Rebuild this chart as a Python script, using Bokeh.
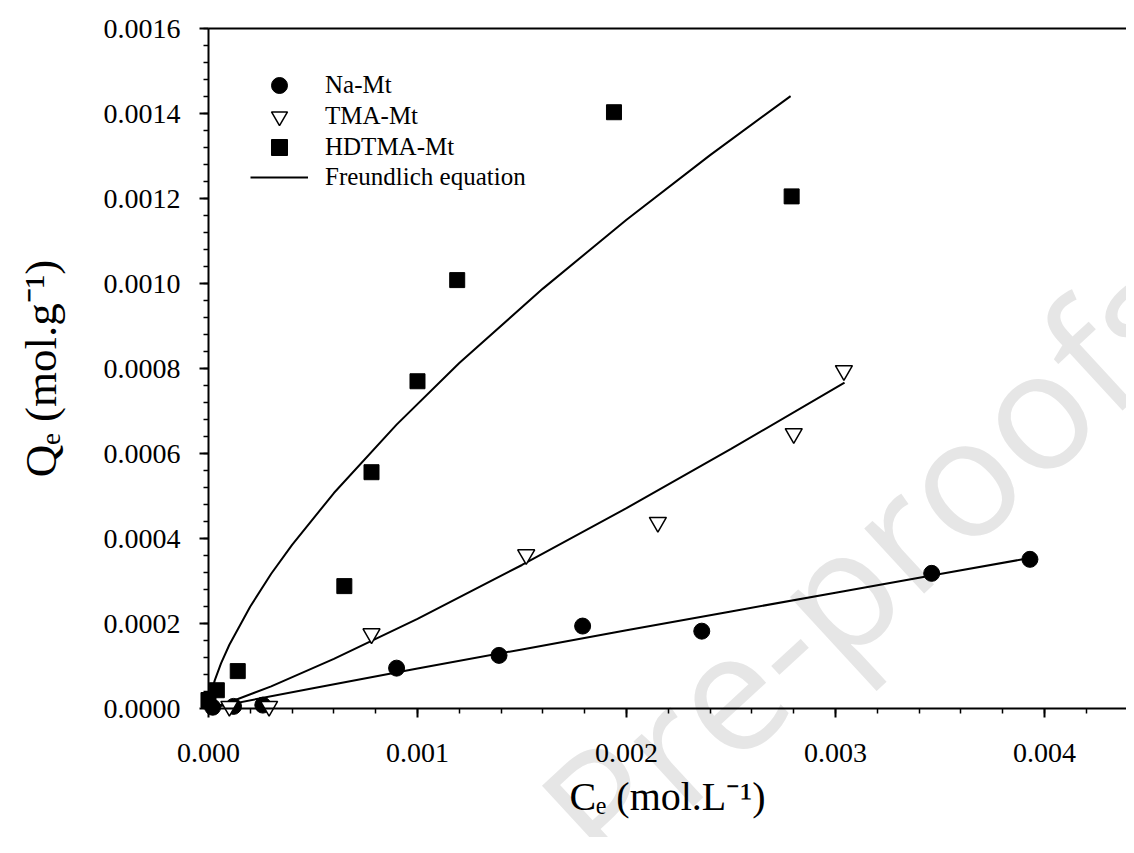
from bokeh.plotting import figure
from bokeh.models import (Range1d, SingleIntervalTicker, PrintfTickFormatter, LinearAxis,
                          FixedTicker, Legend, LegendItem, Label)
from bokeh.embed import file_html
from bokeh.resources import INLINE

na_ce = [0.00002, 0.00012, 0.00026, 0.00090, 0.00139, 0.00179, 0.00236, 0.00346, 0.00393]
na_qe = [0.000003, 0.000005, 0.000008, 0.000095, 0.000125, 0.000194, 0.000182, 0.000318, 0.000351]

tma_ce = [0.00010, 0.00029, 0.00078, 0.00152, 0.00215, 0.00280, 0.00304]
tma_qe = [0.000005, 0.000005, 0.000176, 0.000362, 0.000438, 0.000647, 0.000795]

hd_ce = [0.0, 0.00004, 0.00014, 0.00065, 0.00078, 0.00100, 0.00119, 0.00194, 0.00279]
hd_qe = [0.000020, 0.000043, 0.000088, 0.000288, 0.000556, 0.000770, 0.001008, 0.001403, 0.001205]

# ---- Freundlich fit curves ----
na_fit_ce = [0.00002, 0.0005, 0.001, 0.0015, 0.002, 0.0025, 0.003, 0.0035, 0.003928]
na_fit_qe = [0.0000021, 0.0000479, 0.0000939, 0.0001391, 0.0001839, 0.0002284, 0.0002726, 0.0003165, 0.000354]

tma_fit_ce = [0.00002, 0.0001, 0.0003, 0.0006, 0.001, 0.0015, 0.002, 0.0025, 0.003043]
tma_fit_qe = [0.0000023, 0.0000146, 0.0000522, 0.0001166, 0.000211, 0.0003377, 0.0004714, 0.0006107, 0.000767]

hd_fit_ce = [0.00001, 0.00003, 0.00006, 0.0001, 0.0002, 0.0003, 0.0004, 0.0006, 0.0009,
             0.0012, 0.0016, 0.002, 0.0024, 0.002785]
hd_fit_qe = [0.0000313, 0.0000662, 0.000106, 0.000150, 0.000240, 0.000317, 0.000385, 0.000507, 0.000668,
             0.000813, 0.000988, 0.001150, 0.001302, 0.001441]

legend_labels = ["Na-Mt", "TMA-Mt", "HDTMA-Mt", "Freundlich equation"]
x_label = "C\u2091 (mol.L\u207b\u00b9)"
y_label = "Q\u2091 (mol.g\u207b\u00b9)"
watermark = "Pre-proofs"

X_MAX = 0.004392
Y_MAX = 0.0016
SERIF = "Liberation Serif"

# The data frame covers the whole canvas; the axes are pinned at Ce = 0 / Qe = 0
# so that nothing (tick labels, markers at zero, watermark) is clipped.
p = figure(width=1126, height=837, output_backend="svg", toolbar_location=None,
           x_range=Range1d(-0.000995, X_MAX), y_range=Range1d(-0.0003035, 0.0016659),
           min_border_left=0, min_border_right=0, min_border_top=0, min_border_bottom=0)
p.outline_line_color = None
p.xgrid.visible = False
p.ygrid.visible = False
p.background_fill_color = "white"

# watermark, behind everything
wm = Label(x=0.001713, y=-0.0003005, x_units="data", y_units="data", text=watermark,
           angle=0.745, text_font="Open Sans", text_font_size="165px",
           text_color="#e6e6e6", text_align="left", text_baseline="alphabetic",
           level="underlay")
p.add_layout(wm)

# axes
xa = p.xaxis[0]
xa.fixed_location = 0
xa.bounds = (0, X_MAX)
xa.ticker = SingleIntervalTicker(interval=0.001, num_minor_ticks=5)
xa.formatter = PrintfTickFormatter(format="%.3f")
ya = p.yaxis[0]
ya.fixed_location = 0
ya.bounds = (0, Y_MAX)
ya.ticker = SingleIntervalTicker(interval=0.0002, num_minor_ticks=5)
ya.formatter = PrintfTickFormatter(format="%.4f")
for ax in (xa, ya):
    ax.axis_line_width = 2
    ax.axis_line_color = "black"
    ax.major_tick_line_width = 2
    ax.minor_tick_line_width = 1.5
    ax.major_tick_out = 9
    ax.major_tick_in = 0
    ax.minor_tick_out = 5
    ax.minor_tick_in = 0
    ax.major_label_text_font = SERIF
    ax.major_label_text_font_size = "28px"
    ax.major_label_text_color = "black"
    ax.axis_label_text_font = SERIF
    ax.axis_label_text_font_style = "normal"
    ax.axis_label_text_color = "black"
xa.axis_label = x_label
ya.axis_label = y_label
xa.axis_label_text_font_size = "40px"
ya.axis_label_text_font_size = "45px"
xa.major_label_standoff = 26
ya.major_label_standoff = 19
xa.axis_label_standoff = 9
ya.axis_label_standoff = 35

top = LinearAxis(ticker=FixedTicker(ticks=[]), axis_line_width=2, axis_line_color="black",
                 fixed_location=Y_MAX, bounds=(0, X_MAX))
p.add_layout(top, "above")

# fit lines
l_na = p.line(na_fit_ce, na_fit_qe, line_color="black", line_width=2)
l_tma = p.line(tma_fit_ce, tma_fit_qe, line_color="black", line_width=2)
l_hd = p.line(hd_fit_ce, hd_fit_qe, line_color="black", line_width=2)

# data
r_na = p.scatter(na_ce, na_qe, marker="circle", size=16, fill_color="black", line_color="black")
r_tma = p.scatter(tma_ce, tma_qe, marker="inverted_triangle", size=17, fill_color="white",
                  line_color="black", line_width=1.5)
r_hd = p.scatter(hd_ce, hd_qe, marker="square", size=15, fill_color="black", line_color="black")

# legend: one row per entry so the row pitch can be set freely
row_renderers = [r_na, r_tma, r_hd, l_hd]
row_bottoms = [732, 701, 670, 640]
for lab, rend, yb in zip(legend_labels, row_renderers, row_bottoms):
    lg = Legend(items=[LegendItem(label=lab, renderers=[rend])],
                location=(250, yb), glyph_width=58, glyph_height=40, label_height=40,
                spacing=0, padding=0, margin=0, label_standoff=17,
                border_line_color=None, background_fill_alpha=0,
                label_text_font=SERIF, label_text_font_size="25px", label_text_color="black")
    p.add_layout(lg, "center")

open("out.html", "w").write(file_html(p, INLINE))
